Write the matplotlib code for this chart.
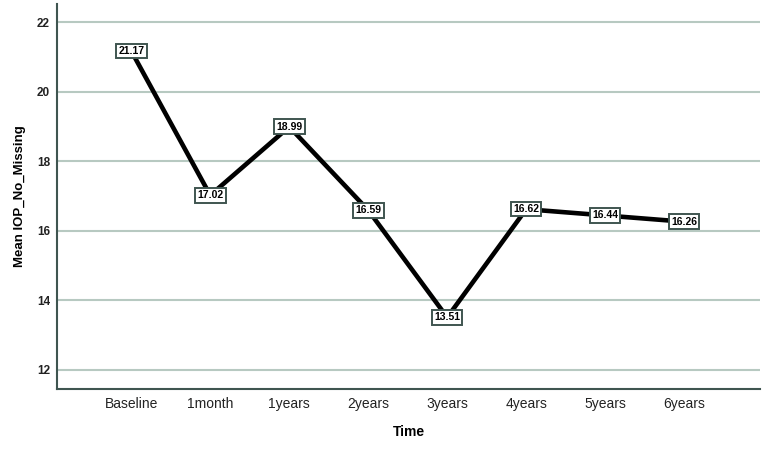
import numpy as np
import matplotlib
matplotlib.use("Agg")
import matplotlib.pyplot as plt

plt.rcParams["font.family"] = ["Liberation Sans", "DejaVu Sans"]

times = ["Baseline", "1month", "1years", "2years", "3years", "4years", "5years", "6years"]
mean_iop = [21.17, 17.02, 18.99, 16.59, 13.51, 16.62, 16.44, 16.26]
yticks = [12, 14, 16, 18, 20, 22]

SPINE = "#3f5550"
GRID = "#b7c9c1"

fig = plt.figure(figsize=(7.66, 4.49), dpi=100)
ax = fig.add_axes([57/766, 60/449, (760-57)/766, (389-4)/449])
x = np.arange(len(times))
ax.plot(x, mean_iop, color="black", lw=3.3, solid_joinstyle="miter", zorder=3)
for xi, v in zip(x, mean_iop):
    ax.text(xi, v, f"{v:.2f}", ha="center", va="center", fontsize=7.5, fontweight="bold",
            zorder=4, bbox=dict(boxstyle="square,pad=0.22", fc="white", ec=SPINE, lw=1.4))

ax.set_xlim(-0.94, 7.96)
ax.set_ylim(11.45, 22.52)
ax.set_xticks(x)
ax.set_xticklabels(times, fontsize=10, color="#222222")
ax.set_yticks(yticks)
ax.set_yticklabels([str(t) for t in yticks], fontsize=8.5, fontweight="bold", color="#222222")
ax.tick_params(axis="x", length=0, pad=6)
ax.tick_params(axis="y", length=0, pad=5)
ax.yaxis.grid(True, color=GRID, lw=1.5)
ax.set_axisbelow(True)
for s in ["top", "right"]:
    ax.spines[s].set_visible(False)
for s in ["left", "bottom"]:
    ax.spines[s].set_color(SPINE)
    ax.spines[s].set_linewidth(1.5)
ax.set_xlabel("Time", fontsize=10, fontweight="bold", labelpad=10)
ax.set_ylabel("Mean IOP_No_Missing", fontsize=9.5, fontweight="bold", labelpad=8)
fig.savefig("out.png", dpi=100)
